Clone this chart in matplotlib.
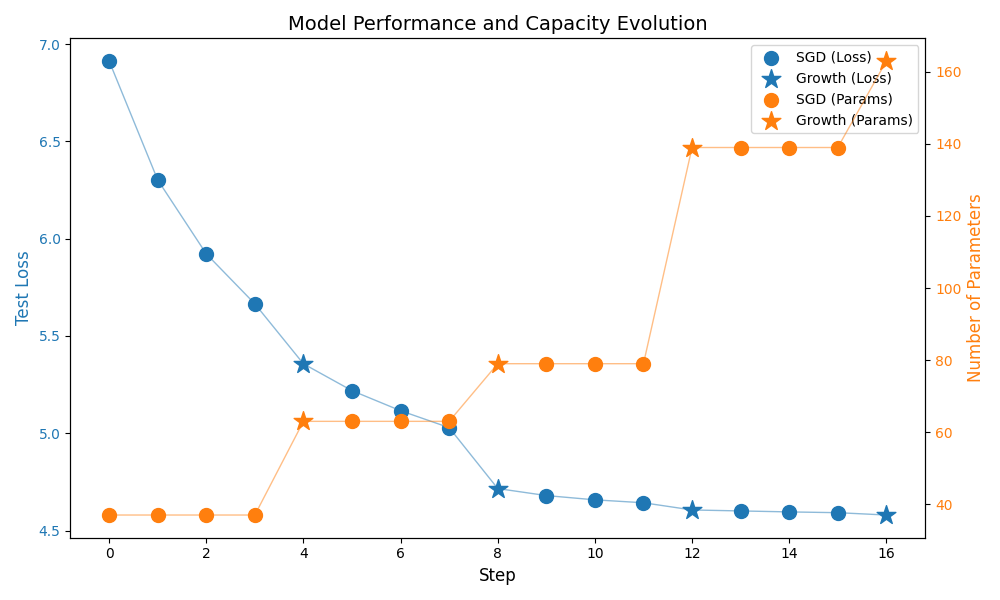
import numpy as np
import matplotlib
matplotlib.use("Agg")
from matplotlib import pyplot as plt

steps = list(range(17))
test_loss = [6.913, 6.302, 5.922, 5.665, 5.357, 5.219, 5.116, 5.029, 4.716,
             4.680, 4.658, 4.643, 4.606, 4.601, 4.596, 4.592, 4.580]
num_params = [37, 37, 37, 37, 63, 63, 63, 63, 79, 79, 79, 79, 139, 139, 139, 139, 163]
growth_steps = [4, 8, 12, 16]

loss_color = "tab:blue"
param_color = "tab:orange"

steps_arr = np.array(steps)
loss_arr = np.array(test_loss)
params_arr = np.array(num_params)
is_growth = np.isin(steps_arr, growth_steps)

fig, ax1 = plt.subplots(figsize=(10, 6), dpi=100)
ax2 = ax1.twinx()

ax1.plot(steps_arr, loss_arr, color=loss_color, alpha=0.5, linewidth=1)
ax1.scatter(steps_arr[~is_growth], loss_arr[~is_growth], color=loss_color,
            marker="o", s=100, label="SGD (Loss)", zorder=3)
ax1.scatter(steps_arr[is_growth], loss_arr[is_growth], color=loss_color,
            marker="*", s=200, label="Growth (Loss)", zorder=3)

ax2.plot(steps_arr, params_arr, color=param_color, alpha=0.5, linewidth=1)
ax2.scatter(steps_arr[~is_growth], params_arr[~is_growth], color=param_color,
            marker="o", s=100, label="SGD (Params)", zorder=3)
ax2.scatter(steps_arr[is_growth], params_arr[is_growth], color=param_color,
            marker="*", s=200, label="Growth (Params)", zorder=3)

ax1.set_xlabel("Step", fontsize=12)
ax1.set_ylabel("Test Loss", color=loss_color, fontsize=12)
ax2.set_ylabel("Number of Parameters", color=param_color, fontsize=12)
ax1.tick_params(axis="y", labelcolor=loss_color)
ax2.tick_params(axis="y", labelcolor=param_color)
ax1.set_xticks(range(0, 17, 2))
ax1.set_title("Model Performance and Capacity Evolution", fontsize=14)

h1, l1 = ax1.get_legend_handles_labels()
h2, l2 = ax2.get_legend_handles_labels()
ax1.legend(h1 + h2, l1 + l2, loc="upper right")

fig.tight_layout()
fig.savefig("out.png")
